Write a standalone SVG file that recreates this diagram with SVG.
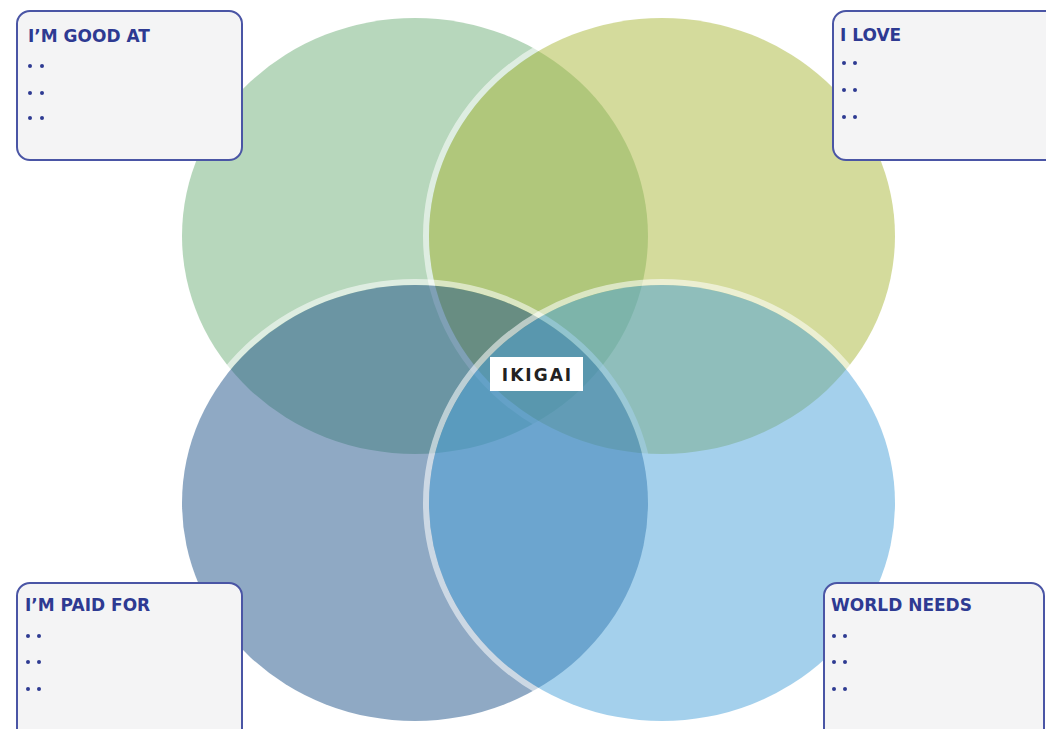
<svg xmlns="http://www.w3.org/2000/svg" width="1046" height="729" viewBox="0 0 1046 729">
<style>
.ring{fill:none;stroke:#ffffff;stroke-opacity:0.55;stroke-width:6}
.box{fill:#f4f4f5;stroke:#4a55a5;stroke-width:2}
.t{font-family:"DejaVu Sans","Liberation Sans",sans-serif;font-weight:bold;font-size:17px;fill:#2e3a92}
.d{fill:#2e3a92}
.ik{font-family:"DejaVu Sans","Liberation Sans",sans-serif;font-weight:bold;font-size:17px;fill:#222222;text-anchor:middle;letter-spacing:2px}
</style>
<rect width="1046" height="729" fill="#ffffff"/>
<g id="circles">
<ellipse cx="415" cy="236" rx="233" ry="218" fill="#6fb07a" fill-opacity="0.5"/>
<ellipse cx="662" cy="236" rx="236" ry="221" class="ring"/>
<ellipse cx="662" cy="236" rx="233" ry="218" fill="#aab73a" fill-opacity="0.5"/>
<ellipse cx="415" cy="503" rx="236" ry="221" class="ring"/>
<ellipse cx="415" cy="503" rx="233" ry="218" fill="#1f5389" fill-opacity="0.5"/>
<ellipse cx="662" cy="503" rx="236" ry="221" class="ring"/>
<ellipse cx="662" cy="503" rx="233" ry="218" fill="#49a1d9" fill-opacity="0.5"/>
</g>
<g id="connectors"></g>
<g id="good">
<rect class="box" x="17" y="11" width="225" height="149" rx="13"/>
<text class="t" x="28" y="42">I’M GOOD AT</text>
<circle class="d" cx="30" cy="66" r="2"/><circle class="d" cx="42" cy="66" r="2"/>
<circle class="d" cx="30" cy="93" r="2"/><circle class="d" cx="42" cy="93" r="2"/>
<circle class="d" cx="30" cy="118" r="2"/><circle class="d" cx="42" cy="118" r="2"/>
</g>
<g id="love">
<rect class="box" x="833" y="11" width="230" height="149" rx="13"/>
<text class="t" x="840" y="41">I LOVE</text>
<circle class="d" cx="844" cy="63" r="2"/><circle class="d" cx="855" cy="63" r="2"/>
<circle class="d" cx="844" cy="90" r="2"/><circle class="d" cx="855" cy="90" r="2"/>
<circle class="d" cx="844" cy="117" r="2"/><circle class="d" cx="855" cy="117" r="2"/>
</g>
<g id="paid">
<rect class="box" x="17" y="583" width="225" height="160" rx="13"/>
<text class="t" x="25" y="611">I’M PAID FOR</text>
<circle class="d" cx="28" cy="636" r="2"/><circle class="d" cx="39" cy="636" r="2"/>
<circle class="d" cx="28" cy="662" r="2"/><circle class="d" cx="39" cy="662" r="2"/>
<circle class="d" cx="28" cy="689" r="2"/><circle class="d" cx="39" cy="689" r="2"/>
</g>
<g id="needs">
<rect class="box" x="824" y="583" width="220" height="160" rx="13"/>
<text class="t" x="831" y="611">WORLD NEEDS</text>
<circle class="d" cx="834" cy="636" r="2"/><circle class="d" cx="845" cy="636" r="2"/>
<circle class="d" cx="834" cy="662" r="2"/><circle class="d" cx="845" cy="662" r="2"/>
<circle class="d" cx="834" cy="689" r="2"/><circle class="d" cx="845" cy="689" r="2"/>
</g>
<g id="ikigai">
<rect x="490" y="357" width="93" height="34" fill="#ffffff"/>
<text class="ik" x="537.5" y="381">IKIGAI</text>
</g>
</svg>
